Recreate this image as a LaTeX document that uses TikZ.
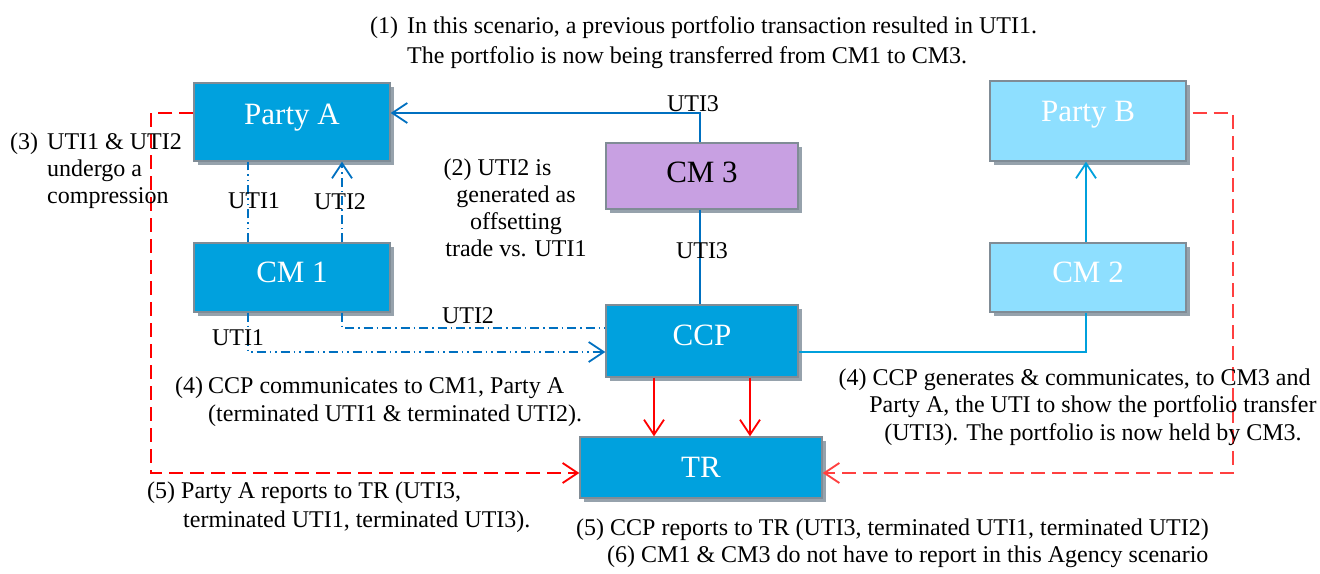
\documentclass[tikz,border=0pt]{standalone}
\usepackage{fontspec}
\setmainfont{Liberation Serif}
\usetikzlibrary{arrows.meta,shadows}
\definecolor{boxblue}{RGB}{0,161,222}
\definecolor{lightbox}{RGB}{142,223,255}
\definecolor{lav}{RGB}{200,160,226}
\definecolor{edgegray}{RGB}{128,140,150}
\definecolor{shadowgray}{RGB}{150,162,172}
\definecolor{linkblue}{RGB}{0,112,192}
\definecolor{linklight}{RGB}{0,160,220}
\definecolor{redlight}{RGB}{255,64,64}
\begin{document}
\begin{tikzpicture}[x=1pt,y=-1pt,
  box/.style={draw=edgegray, line width=1.3pt, inner sep=0pt, text height=22pt,
    drop shadow={shadow xshift=4pt, shadow yshift=-4pt, fill=shadowgray, opacity=1},
    font=\fontsize{31}{36}\selectfont},
  bluebox/.style={box, fill=boxblue, text=white},
  lightboxstyle/.style={box, fill=lightbox, text=white},
  lavbox/.style={box, fill=lav, text=black},
  txt/.style={inner sep=0pt, font=\fontsize{24}{28}\selectfont},
  tip/.style={-{Straight Barb[length=15pt,width=20pt]}},
  blink/.style={draw=linkblue, line width=1.8pt},
  llink/.style={draw=linklight, line width=1.8pt},
  utione/.style={blink, dash pattern=on 9pt off 4pt on 1.5pt off 4pt on 1.5pt off 4pt},
  utitwo/.style={blink, dash pattern=on 9pt off 4pt on 1.5pt off 4pt},
  redarrow/.style={draw=red, line width=1.8pt},
  reddash/.style={line width=1.9pt, dash pattern=on 14pt off 7pt}
]
\useasboundingbox (0,0) rectangle (1320,573);

% boxes
\node[bluebox, minimum width=196pt, minimum height=78pt, text depth=18pt] (PartyA) at (292,122) {Party A};
\node[bluebox, minimum width=196pt, minimum height=69pt, text depth=13pt] (CM1) at (292,277.5) {CM 1};
\node[lavbox, minimum width=192pt, minimum height=66pt, text depth=10pt] (CM3) at (702,176) {CM 3};
\node[bluebox, minimum width=192pt, minimum height=72pt, text depth=14pt] (CCP) at (702,341) {CCP};
\node[bluebox, minimum width=242pt, minimum height=61pt, text depth=3pt] (TR) at (701,467.5) {TR};
\node[lightboxstyle, minimum width=196pt, minimum height=80pt, text depth=22pt] (PartyB) at (1088,121) {Party B};
\node[lightboxstyle, minimum width=196pt, minimum height=69pt, text depth=13pt] (CM2) at (1088,277.5) {CM 2};

% blue connectors
\draw[blink, tip] ([xshift=-2pt]CM3.north) |- ([yshift=9pt]PartyA.east);
\draw[blink] ([xshift=-2pt]CM3.south) -- ([xshift=-2pt]CCP.north);
\draw[utione] ([xshift=-44pt]CM1.north) -- ([xshift=-44pt]PartyA.south);
\draw[utitwo, tip] ([xshift=50pt]CM1.north) -- ([xshift=50pt]PartyA.south);
\draw[utitwo] ([xshift=50pt]CM1.south) |- ([yshift=13pt]CCP.west);
\draw[utione, tip] ([xshift=-44pt]CM1.south) |- ([yshift=-11pt]CCP.west);
\draw[llink] ([yshift=-11pt]CCP.east) -| ([xshift=-2pt]CM2.south);
\draw[llink, tip] ([xshift=-2pt]CM2.north) -- ([xshift=-2pt]PartyB.south);

% red connectors
\draw[redarrow, tip] ([xshift=-48pt]CCP.south) -- ([xshift=-48pt]CCP.south |- TR.north);
\draw[redarrow, tip] ([xshift=48pt]CCP.south) -- ([xshift=48pt]CCP.south |- TR.north);
\draw[reddash, draw=red, tip] ([yshift=9pt]PartyA.west) -- ++(-42,0) |- ([yshift=-5.5pt]TR.west);
\draw[reddash, draw=redlight, tip] ([xshift=6pt,yshift=8pt]PartyB.east) -- ++(40,0) |- ([yshift=-5.5pt]TR.east);

% connector labels
\node[txt, anchor=base] (l1) at (693,111) {UTI3};
\node[txt, anchor=base] (l2) at (702,258) {UTI3};
\node[txt, anchor=base] (l3) at (254,208) {UTI1};
\node[txt, anchor=base] (l4) at (340,209) {UTI2};
\node[txt, anchor=base] (l5) at (238,345) {UTI1};
\node[txt, anchor=base] (l6) at (468,323) {UTI2};

% annotations
\node[txt, anchor=base west, font=\fontsize{24}{30}\selectfont] (t1) at (370,33)
  {\begin{tabular}[t]{@{}l@{}l@{}}\makebox[37pt][l]{(1)} & In this scenario, a previous portfolio transaction resulted in UTI1.\\
   & The portfolio is now being transferred from CM1 to CM3.\end{tabular}};
\node[txt, anchor=base, font=\fontsize{24}{27.3}\selectfont] (t2) at (516,175)
  {\begin{tabular}[t]{@{}c@{}}(2) UTI2 is\hspace*{37pt}\\ generated as\\ offsetting\\ trade vs. UTI1\end{tabular}};
\node[txt, anchor=base west, font=\fontsize{24}{27}\selectfont] (t3) at (10,149)
  {\begin{tabular}[t]{@{}l@{}l@{}}\makebox[37pt][l]{(3)} & UTI1 \& UTI2\\ & undergo a\\ & compression\end{tabular}};
\node[txt, anchor=base west, font=\fontsize{24}{28}\selectfont] (t4a) at (175,393)
  {\begin{tabular}[t]{@{}l@{}l@{}}\makebox[33pt][l]{(4)} & CCP communicates to CM1, Party A\\ & (terminated UTI1 \& terminated UTI2).\end{tabular}};
\node[txt, anchor=base, font=\fontsize{24}{27.5}\selectfont] (t4b) at (1093,385)
  {\begin{tabular}[t]{@{}c@{}}(4) CCP generates \& communicates, to CM3 and\hspace*{37pt}\\ Party A, the UTI to show the portfolio transfer\\ (UTI3). The portfolio is now held by CM3.\end{tabular}};
\node[txt, anchor=base west, font=\fontsize{24}{29}\selectfont] (t5a) at (147,498)
  {\begin{tabular}[t]{@{}l@{}}(5) Party A reports to TR (UTI3,\\ \hspace*{36pt}terminated UTI1, terminated UTI3).\end{tabular}};
\node[txt, anchor=base west] (t5b) at (576,535) {(5) CCP reports to TR (UTI3, terminated UTI1, terminated UTI2)};
\node[txt, anchor=base west] (t6) at (607,562) {(6) CM1 \& CM3 do not have to report in this Agency scenario};
\end{tikzpicture}
\end{document}
